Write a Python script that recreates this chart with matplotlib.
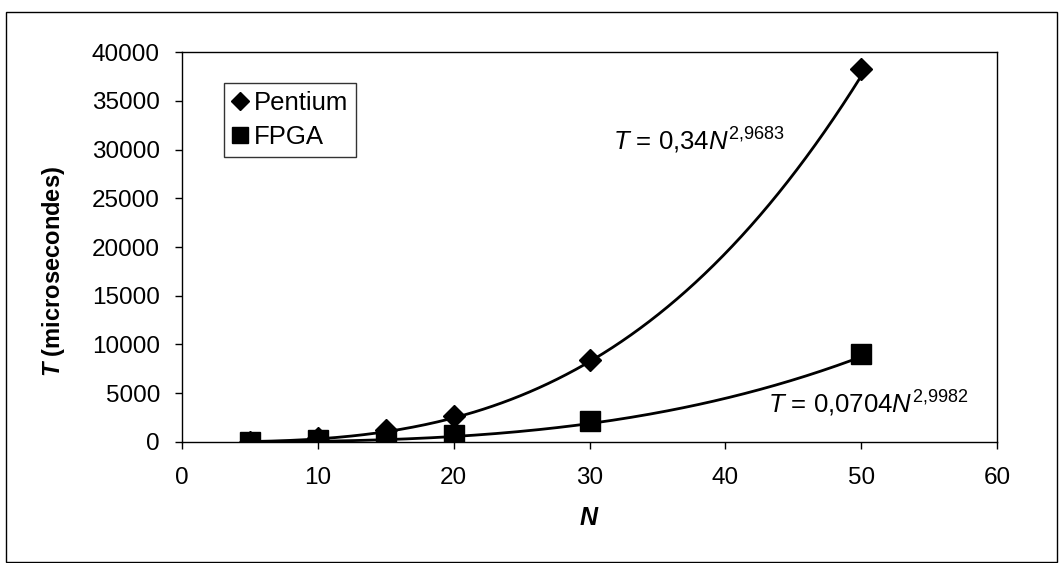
import numpy as np
import matplotlib.pyplot as plt
from matplotlib.patches import Rectangle

plt.rcParams['font.family'] = ['Liberation Sans', 'DejaVu Sans']
plt.rcParams['mathtext.fontset'] = 'custom'
plt.rcParams['mathtext.rm'] = 'Liberation Sans'
plt.rcParams['mathtext.it'] = 'Liberation Sans:italic'
plt.rcParams['mathtext.bf'] = 'Liberation Sans:bold:italic'

# measured points
n_vals = [5, 10, 15, 20, 30, 50]
pentium = [40, 380, 1200, 2650, 8450, 38250]
fpga = [10, 150, 150, 700, 2100, 9000]

# power trendlines shown on the chart, T = a * N^b
pent_a, pent_b = 0.34, 2.9683
fpga_a, fpga_b = 0.0704, 2.9982

x_ticks = [0, 10, 20, 30, 40, 50, 60]
y_ticks = [0, 5000, 10000, 15000, 20000, 25000, 30000, 35000, 40000]

fig = plt.figure(figsize=(10.59, 5.63), dpi=100)
ax = fig.add_axes([0.172, 0.215, 0.7695, 0.6925])

# frame round the whole chart
fig.patches.append(Rectangle((0.006, 0.002), 0.992, 0.977, transform=fig.transFigure,
                             fill=False, edgecolor='black', linewidth=1.0))

nn = np.linspace(n_vals[0], n_vals[-1], 200)
ax.plot(nn, pent_a * nn**pent_b, color='black', lw=2)
ax.plot(nn, fpga_a * nn**fpga_b, color='black', lw=2)
ax.plot(n_vals, pentium, 'D', color='black', markersize=11, label='Pentium', linestyle='none')
ax.plot(n_vals, fpga, 's', color='black', markersize=14, label='FPGA', linestyle='none')

ax.set_xlim(0, 60)
ax.set_ylim(0, 40000)
ax.set_xticks(x_ticks)
ax.set_yticks(y_ticks)
ax.tick_params(labelsize=17.5, direction='out', length=5, width=1)
ax.tick_params(axis='x', pad=13)
ax.tick_params(axis='y', pad=11)
for s in ax.spines.values():
    s.set_linewidth(1.0)

ax.set_xlabel(r'$\mathbf{N}$', fontsize=18, labelpad=12)
ax.set_ylabel(r'$\mathbf{T}$ (microsecondes)', fontsize=17, fontweight='bold')
ax.yaxis.set_label_coords(-0.141, 0.436)

ax.text(31.7, 29950, r'$T$ = 0,34$N^{2{,}9683}$', fontsize=18.5)
ax.text(43.1, 2970, r'$T$ = 0,0704$N^{2{,}9982}$', fontsize=18.5)

leg = ax.legend(loc='upper left', bbox_to_anchor=(0.0515, 0.9205), fontsize=18.5, frameon=True,
                fancybox=False, edgecolor='black', handlelength=0.6, handletextpad=0.25,
                borderpad=0.3, labelspacing=0.4, markerscale=0.85, borderaxespad=0)
leg.get_frame().set_linewidth(1.0)

fig.savefig('out.png', dpi=100)
